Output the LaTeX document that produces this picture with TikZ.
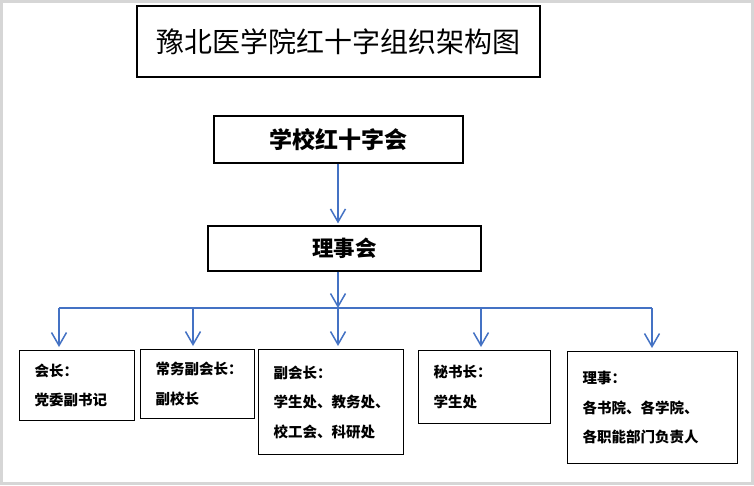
\documentclass[tikz,border=0pt]{standalone}
\usepackage{fontspec}
\newfontfamily\cjk{Noto Sans CJK SC}
\usetikzlibrary{arrows.meta}

\definecolor{linkblue}{HTML}{4472C4}
\definecolor{framegray}{HTML}{D6D6D6}

\begin{document}
\begin{tikzpicture}[
    x=1pt, y=-1pt,
    box/.style={draw, line width=1.2pt, inner sep=0pt},
    member/.style={draw, line width=1.2pt, anchor=north west, align=left,
      inner xsep=15pt, inner ysep=0pt,
      font=\cjk\bfseries\fontsize{14.5}{29.5}\selectfont},
    link/.style={draw=linkblue, line width=1.5pt,
      -{Straight Barb[length=13pt,width=15pt,line width=1.5pt]}},
    bus/.style={draw=linkblue, line width=1.5pt}
  ]

    % Frame
    \fill[framegray] (0,0) rectangle (754,485);
    \fill[white] (3,3) rectangle (751,482);
    \useasboundingbox (0,0) rectangle (754,485);

    % Title
    \node[box, line width=1.6pt, minimum width=403pt, minimum height=71pt,
      font=\cjk\fontsize{28}{30}\selectfont] (title) at (338.5,41.5)
    {豫北医学院红十字组织架构图};

    % Upper levels
    \node[box, minimum width=249pt, minimum height=47pt,
      font=\cjk\bfseries\fontsize{23}{25}\selectfont] (school) at (338.5,139.5)
    {学校红十字会};
    \node[box, minimum width=273pt, minimum height=45pt,
      font=\cjk\bfseries\fontsize{21.5}{23}\selectfont] (council) at (344.5,248.5)
    {理事会};

    % Members
    \node[member, text width=85pt, minimum height=70pt] (b1) at (19,350)
    {会长：\\党委副书记};
    \node[member, text width=84pt, minimum height=69pt] (b2) at (140,349)
    {常务副会长：\\副校长};
    \node[member, text width=115pt, minimum height=105pt] (b3) at (258,349)
    {副会长：\\学生处、教务处、\\校工会、科研处};
    \node[member, text width=102pt, minimum height=73pt] (b4) at (418,350)
    {秘书长：\\学生处};
    \node[member, text width=140pt, minimum height=112pt] (b5) at (567,351)
    {理事：\\各书院、各学院、\\各职能部门负责人};

    % Bus coordinates
    \coordinate (bus1) at (59,308);
    \coordinate (bus2) at (193,308);
    \coordinate (bus3) at (338,308);
    \coordinate (bus4) at (481,308);
    \coordinate (bus5) at (652,308);

    % Connectors
    \draw[link, shorten >=2pt] (school.south -| bus3) -- (council.north -| bus3);
    \draw[link] (council.south -| bus3) -- (bus3);
    \draw[bus] (bus1) -- (bus5);
    \foreach \i in {1,...,5}
    \draw[link, shorten >=3pt] (bus\i) -- (bus\i |- b\i.north);

  \end{tikzpicture}
\end{document}
